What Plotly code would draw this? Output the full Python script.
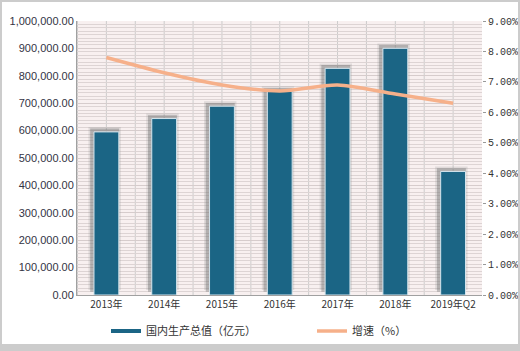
import plotly.graph_objects as go

categories = ["2013年", "2014年", "2015年", "2016年", "2017年", "2018年", "2019年Q2"]
gdp = [595244, 643974, 689052, 743585, 827122, 900309, 450933]
growth = [7.8, 7.3, 6.9, 6.7, 6.9, 6.6, 6.3]

BAR = "#1b6585"
LINE = "#f6b08a"

fig = go.Figure()
# soft shadow (two layers)
fig.add_trace(go.Bar(x=categories, y=gdp, base=18000, width=0.56, offset=-0.31,
                     marker=dict(color="rgba(150,150,150,0.25)", line=dict(width=0)),
                     showlegend=False, hoverinfo="skip"))
fig.add_trace(go.Bar(x=categories, y=gdp, base=12000, width=0.50, offset=-0.28,
                     marker=dict(color="rgba(110,110,110,0.40)", line=dict(width=0)),
                     showlegend=False, hoverinfo="skip"))
fig.add_trace(go.Bar(x=categories, y=gdp, width=0.43, offset=-0.215, name="国内生产总值（亿元）",
                     marker=dict(color=BAR, line=dict(color="#d6e6ee", width=1)),
                     showlegend=False))
fig.add_trace(go.Scatter(x=categories, y=growth, yaxis="y2", mode="lines", name="增速（%）",
                         line=dict(color=LINE, width=3.5, shape="spline", smoothing=0.8),
                         legend="legend2"))
# legend entry for bars (line-like symbol)
fig.add_trace(go.Scatter(x=[None], y=[None], mode="lines", name="国内生产总值（亿元）",
                         line=dict(color=BAR, width=4), legend="legend"))

fig.update_layout(
    width=520, height=351,
    margin=dict(l=77, r=38, t=21, b=56, autoexpand=False),
    paper_bgcolor="white", plot_bgcolor="#f8f0f0",
    barmode="overlay",
    font=dict(family="Noto Sans CJK SC", size=11, color="#333333"),
    xaxis=dict(showgrid=False, tickfont=dict(size=10, family="Noto Sans CJK SC"), ticks="",
               showline=True, linecolor="#a0a0a0", automargin=False),
    yaxis=dict(range=[0, 1000000], dtick=100000, tickformat=",.2f",
               showgrid=True, gridcolor="#d6cccc", gridwidth=1,
               minor=dict(dtick=12500, showgrid=True, gridcolor="#ddd4d4"),
               tickfont=dict(size=11, family="Liberation Sans", color="#333344"),
               showline=True, linecolor="#a0a0a0", zeroline=False, automargin=False),
    yaxis2=dict(range=[0, 9], dtick=1, overlaying="y", side="right", tickformat=".2f",
                ticksuffix="%", showgrid=False, zeroline=False,
                ticks="outside", ticklen=3, tickcolor="#999999",
                tickfont=dict(size=10, family="Liberation Mono", color="#333333"),
                showline=False, automargin=False),
    legend=dict(orientation="h", xref="container", yref="container",
                x=106/520, xanchor="left", y=1 - 331/351, yanchor="middle",
                font=dict(size=11, family="Noto Sans CJK SC"), itemwidth=30,
                bgcolor="rgba(0,0,0,0)"),
    legend2=dict(orientation="h", xref="container", yref="container",
                 x=312/520, xanchor="left", y=1 - 331/351, yanchor="middle",
                 font=dict(size=11, family="Noto Sans CJK SC"), itemwidth=30,
                 bgcolor="rgba(0,0,0,0)"),
)

# vertical grid lines at category centers and boundaries
for i in range(len(categories) * 2):
    xv = i * 0.5 - 0.5
    fig.add_shape(type="line", xref="x", yref="paper", x0=xv, x1=xv, y0=0, y1=1,
                  line=dict(color="#cccccc", width=1), layer="below")

# outer frame
W, H = 405, 274
fig.add_shape(type="rect", xref="paper", yref="paper",
              x0=-76/W, x1=1 + 37/W, y0=-55/H, y1=1 + 20/H,
              line=dict(color="#cccccc", width=2))
fig.add_shape(type="rect", xref="paper", yref="paper",
              x0=-77/W, x1=1 + 38/W, y0=-56/H, y1=-49/H,
              line=dict(width=0), fillcolor="#cccccc")

fig.write_html("out.html")
